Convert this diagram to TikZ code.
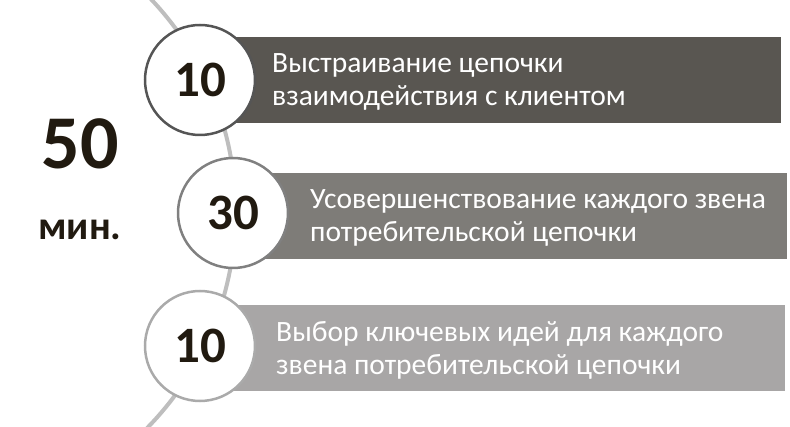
\documentclass[tikz,border=0pt]{standalone}
\usepackage{fontspec}
\setmainfont{Carlito}
\usetikzlibrary{positioning}
\definecolor{barA}{RGB}{89,86,81}
\definecolor{barB}{RGB}{126,124,120}
\definecolor{barC}{RGB}{168,166,166}
\definecolor{ringA}{RGB}{85,85,85}
\definecolor{ringB}{RGB}{128,128,128}
\definecolor{ringC}{RGB}{170,170,170}
\definecolor{arcline}{RGB}{190,190,190}
\definecolor{numtext}{RGB}{33,26,16}

\begin{document}
\begin{tikzpicture}[x=1pt, y=-1pt,
	bar/.style={rectangle, anchor=west, minimum height=86pt, inner sep=0pt},
	bartext/.style={anchor=west, align=left, inner sep=0pt, text=white, font=\fontsize{29.5}{33}\selectfont},
	num/.style={circle, fill=white, line width=2.5pt, minimum size=110pt, inner sep=0pt, text=numtext, font=\fontsize{51}{51}\selectfont\bfseries, text depth=0pt}]
	\useasboundingbox (0,0) rectangle (790,427);
	% guide arc behind the circles
	\draw[arcline, line width=4pt] (147,-5) arc[start angle=-44.5, end angle=44.5, radius=309];
	% bars
	\node[bar, fill=barA, minimum width=581pt] (b1) at (200,80) {};
	\node[bar, fill=barB, minimum width=554pt] (b2) at (233,216.5) {};
	\node[bar, fill=barC, minimum width=585pt] (b3) at (200,348.5) {};
	% texts
	\node[bartext] (t1) at (272,82) {Выстраивание цепочки\\взаимодействия с клиентом};
	\node[bartext] (t2) at (310,218) {Усовершенствование каждого звена\\потребительской цепочки};
	\node[bartext] (t3) at (276,350) {Выбор ключевых идей для каждого\\звена потребительской цепочки};
	% circles
	\node[num, draw=ringA] (c1) at (200,80) {10};
	\node[num, draw=ringB] (c2) at (233,213) {30};
	\node[num, draw=ringC] (c3) at (200,346) {10};
	% total
	\node[text=numtext, font=\fontsize{76}{76}\selectfont\bfseries] (total) at (80,144) {50};
	\node[text=numtext, font=\fontsize{40}{40}\selectfont\bfseries, below=44pt of total] (unit) {мин.};
\end{tikzpicture}
\end{document}
